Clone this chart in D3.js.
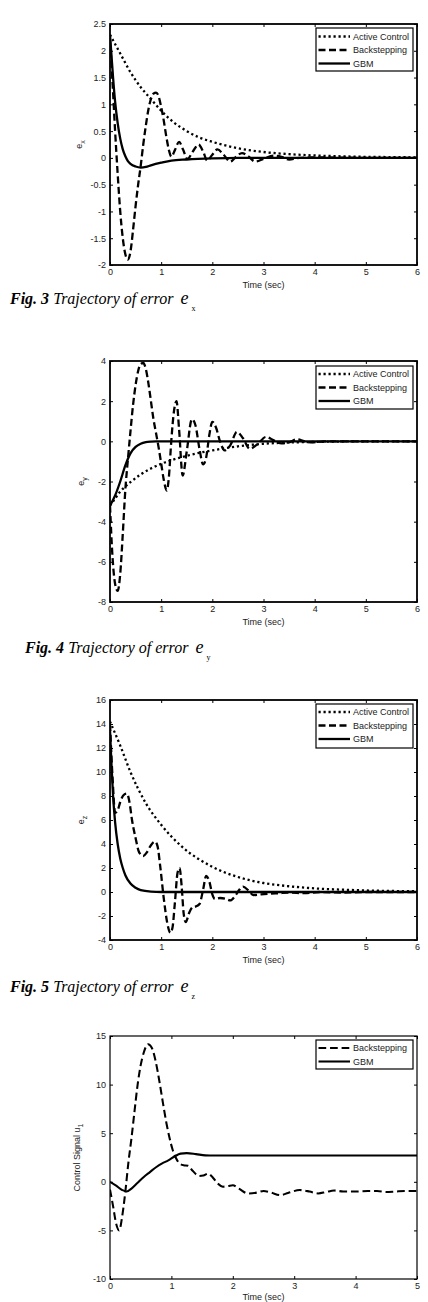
<!DOCTYPE html>
<html><head><meta charset="utf-8">
<script src="https://cdn.jsdelivr.net/npm/d3@7"></script>
<style>body{margin:0;background:#fff}svg{display:block}</style>
</head><body><svg id="c" width="428" height="1302"></svg>
<script>
// ---------- DATA ----------
// Fig.3  e_x
const exActiveT = [0,0.2,0.4,0.6,0.8,1.0,1.25,1.5,1.75,2.0,2.5,3,3.5,4,4.5,5,5.5,6];
const exActiveV = [2.3,1.95,1.6,1.32,1.1,0.88,0.66,0.5,0.38,0.3,0.18,0.11,0.07,0.045,0.03,0.02,0.015,0.01];
const exBackT = [0,0.05,0.1,0.15,0.2,0.25,0.3,0.35,0.4,0.45,0.5,0.55,0.6,0.65,0.7,0.75,0.8,0.85,0.9,0.95,1.0,1.05,1.1,1.15,1.2,1.27,1.35,1.43,1.51,1.62,1.73,1.82,1.9,2.0,2.1,2.22,2.35,2.47,2.58,2.7,2.84,3.0,3.2,3.35,3.5,3.7,4,5,6];
const exBackV = [2.2,1.4,0.5,-0.3,-1.0,-1.5,-1.8,-1.9,-1.75,-1.35,-0.9,-0.5,-0.15,0.25,0.6,0.9,1.1,1.2,1.22,1.15,0.95,0.7,0.4,0.15,0.02,0.15,0.3,0.15,-0.02,0.12,0.25,0.12,-0.05,0.06,0.16,0.06,-0.07,0.03,0.09,0.03,-0.07,-0.02,0.04,0.02,-0.03,0.0,0.01,0,0];
const exGbmT = [0,0.03,0.06,0.1,0.15,0.2,0.25,0.3,0.35,0.4,0.5,0.6,0.7,0.8,1.0,1.2,1.5,2,2.5,3,6];
const exGbmV = [2.3,1.9,1.5,1.05,0.65,0.36,0.16,0.03,-0.06,-0.11,-0.16,-0.18,-0.17,-0.14,-0.09,-0.05,-0.03,-0.01,0,0,0];
const exTicks = [-2,-1.5,-1,-0.5,0,0.5,1,1.5,2,2.5];

// Fig.4  e_y
const eyActiveT = [0,0.1,0.2,0.3,0.4,0.6,0.8,1.0,1.25,1.5,1.75,2,2.5,3,3.5,4,5,6];
const eyActiveV = [-3.2,-2.85,-2.5,-2.25,-2.03,-1.65,-1.35,-1.12,-0.9,-0.72,-0.57,-0.45,-0.25,-0.12,-0.06,-0.03,0,0];
const eyBackT = [0,0.05,0.1,0.15,0.2,0.25,0.3,0.35,0.4,0.45,0.5,0.55,0.6,0.65,0.7,0.75,0.8,0.85,0.9,0.95,1.0,1.05,1.11,1.15,1.2,1.25,1.3,1.35,1.42,1.5,1.6,1.67,1.75,1.82,1.88,1.94,2.0,2.07,2.15,2.24,2.35,2.48,2.6,2.73,2.88,3.05,3.2,3.35,3.5,3.65,3.8,3.95,4.2,5,6];
const eyBackV = [-3.2,-5.8,-7.1,-7.45,-6.6,-4.6,-2.4,-0.9,0.5,1.8,2.8,3.5,3.85,3.9,3.6,2.9,2.0,1.1,0.4,-0.3,-1.1,-1.9,-2.45,-1.8,0.1,1.5,2.0,0.6,-1.7,-0.5,1.1,0.8,-0.4,-1.15,-0.8,0.3,0.97,0.7,0.0,-0.45,-0.2,0.47,0.15,-0.37,-0.15,0.22,0.05,-0.1,-0.05,0.1,0.0,-0.05,0,0,0];
const eyGbmT = [0,0.1,0.2,0.3,0.4,0.5,0.6,0.7,0.8,0.9,1,6];
const eyGbmV = [-3.2,-2.7,-2.0,-1.2,-0.6,-0.28,-0.12,-0.04,-0.01,0,0,0];
const eyTicks = [-8,-6,-4,-2,0,2,4];

// Fig.5  e_z
const ezActiveT = [0,0.2,0.4,0.7,1.0,1.4,2.0,2.5,3.0,3.5,4,4.5,5,6];
const ezActiveV = [14.2,12.2,10.0,7.4,5.6,3.8,2.1,1.25,0.75,0.48,0.3,0.2,0.13,0.06];
const ezBackT = [0,0.05,0.1,0.15,0.2,0.27,0.33,0.38,0.43,0.5,0.57,0.65,0.72,0.8,0.88,0.93,0.98,1.05,1.12,1.18,1.22,1.27,1.32,1.36,1.4,1.44,1.48,1.55,1.62,1.68,1.75,1.82,1.88,1.94,2.0,2.05,2.15,2.25,2.35,2.45,2.53,2.6,2.7,2.8,2.95,3.1,3.3,3.5,3.8,4.1,4.5,5,6];
const ezBackV = [14,9.5,6.6,6.8,7.5,8.1,8.2,7.5,6.0,4.5,3.3,3.0,3.3,3.9,4.2,3.8,2.2,-0.5,-2.6,-3.4,-3.0,-0.8,1.6,2.0,0.5,-1.8,-2.5,-1.7,-1.25,-1.2,-1.0,0.2,1.35,0.9,-0.2,-0.58,-0.5,-0.55,-0.7,-0.3,0.2,0.45,0.15,-0.25,-0.2,-0.15,-0.1,-0.05,-0.1,0,-0.05,0,0];
const ezGbmT = [0,0.03,0.06,0.1,0.15,0.2,0.25,0.3,0.4,0.5,0.6,0.8,1,6];
const ezGbmV = [13.5,10.5,8.0,5.8,4.0,2.8,2.0,1.4,0.7,0.35,0.15,0.03,0,0];
const ezTicks = [-4,-2,0,2,4,6,8,10,12,14,16];

// Control signal u1
const uBackT = [0,0.05,0.1,0.15,0.2,0.25,0.3,0.35,0.4,0.45,0.5,0.55,0.62,0.68,0.74,0.8,0.86,0.92,0.97,1.02,1.07,1.13,1.2,1.27,1.35,1.45,1.52,1.6,1.68,1.76,1.84,1.92,2.0,2.1,2.25,2.4,2.5,2.62,2.77,2.9,3.09,3.25,3.39,3.52,3.65,3.8,4.0,4.2,4.35,4.5,4.65,4.8,5.0];
const uBackV = [-0.8,-2.5,-4.3,-5.0,-3.5,-1.0,2.0,4.5,7.3,10.0,12.0,13.3,14.15,13.8,12.5,10.5,8.2,6.0,4.5,3.3,2.5,1.9,1.7,1.65,1.1,0.6,0.65,0.85,0.4,-0.2,-0.5,-0.45,-0.35,-0.7,-1.2,-1.1,-0.95,-1.1,-1.37,-1.15,-0.85,-1.0,-1.2,-1.05,-0.9,-1.0,-1.0,-0.95,-0.95,-1.05,-1.0,-0.95,-0.95];
const uGbmT = [0,0.1,0.2,0.27,0.35,0.45,0.55,0.65,0.75,0.85,0.95,1.05,1.15,1.25,1.4,1.55,1.7,5];
const uGbmV = [0,-0.4,-0.85,-1.0,-0.7,-0.1,0.5,1.0,1.5,1.9,2.2,2.6,2.9,2.95,2.85,2.72,2.7,2.7];
const uTicks = [-10,-5,0,5,10,15];

const time6Ticks = [0,1,2,3,4,5,6];
const time5Ticks = [0,1,2,3,4,5];
const names = ["Active Control","Backstepping","GBM"];

// ---------- DRAW ----------
const svg = d3.select("#c");
svg.append("rect").attr("width",428).attr("height",1302).attr("fill","#fff");
const FONT = "'Liberation Sans', Arial, Helvetica, sans-serif";
const SERIF = "'Liberation Serif', 'Times New Roman', serif";

const styles = {
  "Active Control": {dash:"2.2,2.8", w:2.3},
  "Backstepping": {dash:"7,3.5", w:2.3},
  "GBM": {dash:null, w:2.3}
};

function drawPanel(p){
  const x = d3.scaleLinear().domain(p.xdom).range([p.l,p.r]);
  const y = d3.scaleLinear().domain(p.ydom).range([p.b,p.t]);
  const g = svg.append("g");
  const cid = "clip"+p.id;
  svg.append("clipPath").attr("id",cid).append("rect")
    .attr("x",p.l).attr("y",p.t).attr("width",p.r-p.l).attr("height",p.b-p.t);

  const line = d3.line().x(d=>x(d[0])).y(d=>y(d[1])).curve(d3.curveMonotoneX);
  p.series.forEach(s=>{
    const st = styles[s.name];
    g.append("path").datum(d3.zip(s.t,s.v))
      .attr("d",line).attr("fill","none").attr("stroke","#000")
      .attr("stroke-width",st.w*(p.lw||1))
      .attr("stroke-dasharray",st.dash ? st.dash.split(",").map(v=>+v*(p.dashK||1)).join(",") : null)
      .attr("stroke-linejoin","round")
      .attr("clip-path",`url(#${cid})`);
  });

  const fmt = d=>String(d);
  const axB = g.append("g").attr("transform",`translate(0,${p.b})`)
    .call(d3.axisBottom(x).tickValues(p.xticks).tickSize(-3).tickSizeOuter(0).tickPadding(4).tickFormat(fmt));
  const axL = g.append("g").attr("transform",`translate(${p.l},0)`)
    .call(d3.axisLeft(y).tickValues(p.yticks).tickSize(-3).tickSizeOuter(0).tickPadding(4).tickFormat(fmt));
  const axT = g.append("g").attr("transform",`translate(0,${p.t})`)
    .call(d3.axisTop(x).tickValues(p.xticks).tickSize(-3).tickSizeOuter(0).tickFormat(""));
  const axR = g.append("g").attr("transform",`translate(${p.r},0)`)
    .call(d3.axisRight(y).tickValues(p.yticks).tickSize(-3).tickSizeOuter(0).tickFormat(""));
  [axB,axL,axT,axR].forEach(a=>{
    a.select(".domain").remove();
    a.selectAll("line").attr("stroke","#000").attr("stroke-width",1);
    a.selectAll("text").attr("font-family",FONT).attr("font-size",9).attr("fill","#222");
  });
  g.append("rect").attr("x",p.l).attr("y",p.t).attr("width",p.r-p.l).attr("height",p.b-p.t)
    .attr("fill","none").attr("stroke","#000").attr("stroke-width",p.frame);

  // x label
  g.append("text").attr("x",(p.l+p.r)/2).attr("y",p.b+(p.xlOff||23)).attr("text-anchor","middle")
    .attr("font-family",FONT).attr("font-size",9).attr("fill","#222").text("Time (sec)");
  // y label
  const yl = g.append("text").attr("transform",`translate(${p.ylx},${(p.t+p.b)/2}) rotate(-90)`)
    .attr("text-anchor","middle").attr("font-family",FONT).attr("font-size",9).attr("fill","#222");
  yl.append("tspan").text(p.ylabel);
  yl.append("tspan").attr("dy",3).attr("font-size",7).text(p.ysub);

  // legend
  const L = p.legend;
  g.append("rect").attr("x",L.x).attr("y",L.y).attr("width",L.w).attr("height",L.h)
    .attr("fill","#fff").attr("stroke","#000").attr("stroke-width",1.2);
  p.series.forEach((s,i)=>{
    const st = styles[s.name];
    const yy = L.y + L.first + i*13.5;
    g.append("line").attr("x1",L.x+2.5).attr("x2",L.x+34).attr("y1",yy).attr("y2",yy)
      .attr("stroke","#000").attr("stroke-width",st.w*(p.lw||1))
      .attr("stroke-dasharray",st.dash ? st.dash.split(",").map(v=>+v*(p.dashK||1)).join(",") : null);
    g.append("text").attr("x",L.x+37).attr("y",yy+3.2).attr("font-family",FONT)
      .attr("font-size",9).attr("fill","#222").text(s.name);
  });
}

function caption(x,yb,num,sub){
  const t = svg.append("text").attr("x",x).attr("y",yb).attr("font-family",SERIF)
    .attr("font-size",16).attr("font-style","italic").attr("fill","#000");
  t.append("tspan").attr("font-weight","bold").text("Fig. "+num);
  t.append("tspan").text(" Trajectory of error ");
  t.append("tspan").attr("dx",3).attr("font-size",18).text("e");
  t.append("tspan").attr("dy",7).attr("dx",3).attr("font-size",8).attr("font-style","normal").text(sub);
}

drawPanel({id:1,l:110,r:417,t:24,b:265,xdom:[0,6],ydom:[-2,2.5],xticks:time6Ticks,yticks:exTicks,frame:1.8,
  ylabel:"e",ysub:"x",ylx:82,
  legend:{x:316,y:28,w:97,h:43,first:8.5},
  series:[{name:names[0],t:exActiveT,v:exActiveV},{name:names[1],t:exBackT,v:exBackV},{name:names[2],t:exGbmT,v:exGbmV}]});
caption(10,304,3,"x");

drawPanel({id:2,l:110,r:417,t:361,b:602,xdom:[0,6],ydom:[-8,4],xticks:time6Ticks,yticks:eyTicks,frame:1.8,
  ylabel:"e",ysub:"y",ylx:84,
  legend:{x:316,y:366,w:97,h:43,first:8},
  series:[{name:names[0],t:eyActiveT,v:eyActiveV},{name:names[1],t:eyBackT,v:eyBackV},{name:names[2],t:eyGbmT,v:eyGbmV}]});
caption(25,653,4,"y");

drawPanel({id:3,l:110,r:417,t:700,b:940,xdom:[0,6],ydom:[-4,16],xticks:time6Ticks,yticks:ezTicks,frame:1.8,
  ylabel:"e",ysub:"z",ylx:84,
  legend:{x:316,y:704,w:97,h:44,first:8},
  series:[{name:names[0],t:ezActiveT,v:ezActiveV},{name:names[1],t:ezBackT,v:ezBackV},{name:names[2],t:ezGbmT,v:ezGbmV}]});
caption(10,992,5,"z");

drawPanel({id:4,l:110,r:417,t:1036,b:1279,xdom:[0,5],ydom:[-10,15],xticks:time5Ticks,yticks:uTicks,frame:1.2,lw:0.9,dashK:1.1,
  ylabel:"Control Signal u",ysub:"1",ylx:80,xlOff:21,
  legend:{x:316,y:1040,w:97,h:29,first:8},
  series:[{name:names[1],t:uBackT,v:uBackV},{name:names[2],t:uGbmT,v:uGbmV}]});
</script>
</body></html>
